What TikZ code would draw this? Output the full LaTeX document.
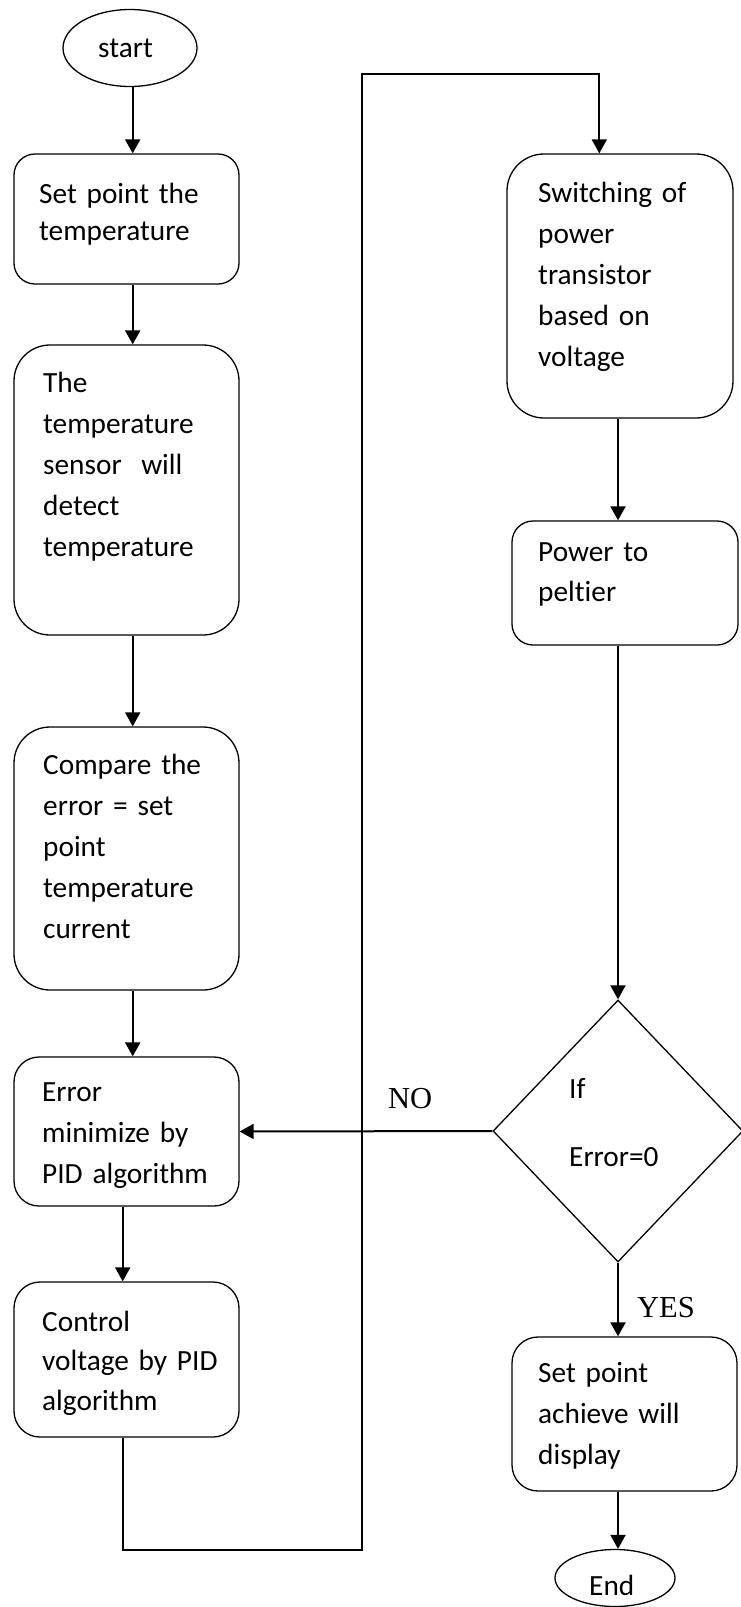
\documentclass[tikz,border=0pt]{standalone}
\usepackage{fontspec}
\setmainfont{Carlito}
\newfontfamily\timesf{Liberation Serif}
\usetikzlibrary{arrows.meta,shapes.geometric}
\begin{document}
\begin{tikzpicture}[x=1pt,y=-1pt,
  box/.style={draw, line width=1.3pt, minimum width=225pt, inner sep=0pt},
  oval/.style={draw, ellipse, line width=1.3pt, inner sep=0pt},
  dec/.style={draw, diamond, line width=1.3pt, inner sep=0pt},
  arr/.style={line width=2pt, -{Triangle[length=14pt,width=15pt]}},
  conn/.style={line width=1.7pt},
  txt/.style={anchor=base west, inner sep=0pt, align=left, text width=200pt, font=\fontsize{29.3}{41}\selectfont},
  lbl/.style={anchor=base west, inner sep=0pt, font=\timesf\fontsize{30.5}{36}\selectfont}]
\useasboundingbox (0,0) rectangle (740,1607);
% column coordinates
\coordinate (lc) at (132.7,0);
\coordinate (lc2) at (122.7,0);
\coordinate (rc) at (618,0);
\coordinate (sw) at (599.3,0);
\coordinate (c1) at (361.7,1550);
\coordinate (c2) at (361.7,74);
% shapes
\node[oval, minimum width=134pt, minimum height=77pt] (start) at (130,48) {};
\node[box, minimum height=130pt, rounded corners=21pt] (b1) at (126.5,219) {};
\node[box, minimum height=290pt, rounded corners=36pt] (b2) at (126.5,490) {};
\node[box, minimum height=263pt, rounded corners=36pt] (b3) at (126.5,858.5) {};
\node[box, minimum height=149pt, rounded corners=25pt] (b4) at (126.5,1131.5) {};
\node[box, minimum height=155pt, rounded corners=26pt] (b5) at (126.5,1359.5) {};
\node[box, minimum width=226pt, minimum height=264pt, rounded corners=37pt] (b6) at (620,286) {};
\node[box, minimum width=226pt, minimum height=124pt, rounded corners=21pt] (b7) at (625,583) {};
\node[box, minimum height=154pt, rounded corners=26pt] (b8) at (624.5,1414) {};
\node[dec, minimum width=250pt, minimum height=262pt] (d) at (618,1131) {};
\node[oval, minimum width=120pt, minimum height=57pt] (end) at (615,1578) {};
% texts
\node[txt] (tstart) at (98,57) {start};
\node[txt, font=\fontsize{29.3}{37}\selectfont] (t1) at (39,203) {Set point the\\temperature};
\node[txt] (t2) at (43,392) {The\\temperature\\sensor\ \ will\\detect\\temperature};
\node[txt] (t3) at (43,774) {Compare the\\error = set\\point\\temperature\\current};
\node[txt] (t4) at (42,1101) {Error\\minimize by\\PID algorithm};
\node[txt, font=\fontsize{29.3}{39.5}\selectfont] (t5) at (42,1331) {Control\\voltage by PID\\algorithm};
\node[txt] (t6) at (538,202) {Switching of\\power\\transistor\\based on\\voltage};
\node[txt, font=\fontsize{29.3}{40}\selectfont] (t7) at (538,561) {Power to\\pelt\kern0pt ier};
\node[txt] (t8) at (538,1382) {Set point\\achieve will\\display};
\node[txt, font=\fontsize{29.3}{68}\selectfont] (td) at (569,1098) {If\\Error=0};
\node[txt] (tend) at (589,1595) {End};
\node[lbl] (no) at (388,1108) {NO};
\node[lbl] (yes) at (637,1317) {YES};
% connectors
\draw[arr] (start.south -| lc) -- (b1.north -| lc);
\draw[arr] (b1.south -| lc) -- (b2.north -| lc);
\draw[arr] (b2.south -| lc) -- (b3.north -| lc);
\draw[arr] (b3.south -| lc) -- (b4.north -| lc);
\draw[arr] (b4.south -| lc2) -- (b5.north -| lc2);
\draw[conn, -{Triangle[length=14pt,width=15pt]}] (b5.south -| lc2) |- (c1) -- (c2) -| (b6.north -| sw);
\draw[arr] (b6.south -| rc) -- (b7.north -| rc);
\draw[arr] (b7.south -| rc) -- (d.north);
\draw[arr] (d.south) -- (b8.north -| rc);
\draw[arr] (b8.south -| rc) -- (end.north -| rc);
\draw[arr] (d.west) -- (b4.east);
\end{tikzpicture}
\end{document}
